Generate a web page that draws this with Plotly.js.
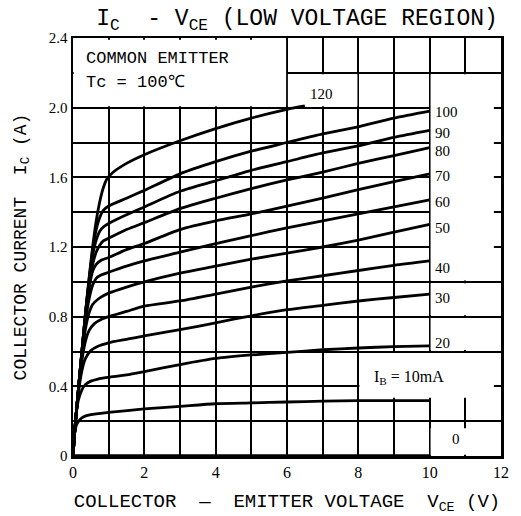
<!DOCTYPE html>
<html>
<head>
<meta charset="utf-8">
<script src="https://cdn.plot.ly/plotly-3.0.1.min.js"></script>
<style>html,body{margin:0;padding:0;background:#fff;}#chart{width:521px;height:516px;}</style>
</head>
<body>
<div id="chart"></div>
<script>
// ---- data ----
const ibLabels = ["0", "10", "20", "30", "40", "50", "60", "70", "80", "90", "100", "120"];

const v0 = [0, 10];
const i0 = [0, 0];

const v10 = [0, 0.03, 0.06, 0.1, 0.2, 0.3, 0.5, 1, 2, 3, 4, 5, 6, 7, 8, 9, 10];
const i10 = [0, 0.10, 0.15, 0.18, 0.21, 0.225, 0.237, 0.25, 0.27, 0.285, 0.30, 0.305, 0.31, 0.315, 0.318, 0.318, 0.318];

const v20 = [0, 0.04, 0.08, 0.15, 0.25, 0.35, 0.5, 0.7, 1, 1.5, 2, 3, 4, 5, 6, 7, 8, 9, 10];
const i20 = [0, 0.12, 0.22, 0.32, 0.38, 0.41, 0.43, 0.442, 0.452, 0.466, 0.485, 0.525, 0.56, 0.58, 0.595, 0.61, 0.62, 0.628, 0.632];

const v30 = [0, 0.04, 0.08, 0.15, 0.25, 0.35, 0.5, 0.7, 1, 1.5, 2, 3, 4, 5, 6, 7, 8, 9, 10];
const i30 = [0, 0.12, 0.22, 0.36, 0.49, 0.56, 0.605, 0.63, 0.65, 0.67, 0.69, 0.725, 0.765, 0.805, 0.84, 0.865, 0.89, 0.91, 0.93];

const v40 = [0, 0.04, 0.08, 0.15, 0.25, 0.35, 0.45, 0.6, 0.8, 1, 1.5, 2, 3, 4, 5, 6, 7, 8, 9, 10];
const i40 = [0, 0.12, 0.22, 0.37, 0.55, 0.66, 0.72, 0.76, 0.785, 0.80, 0.83, 0.86, 0.89, 0.93, 0.97, 1.005, 1.035, 1.065, 1.095, 1.12];

const v50 = [0, 0.04, 0.08, 0.15, 0.25, 0.35, 0.45, 0.55, 0.7, 0.85, 1, 1.5, 2, 3, 4, 5, 6, 7, 8, 9, 10];
const i50 = [0, 0.12, 0.22, 0.38, 0.58, 0.73, 0.82, 0.87, 0.90, 0.92, 0.935, 0.97, 1.0, 1.05, 1.09, 1.13, 1.165, 1.2, 1.24, 1.285, 1.33];

const v60 = [0, 0.04, 0.08, 0.15, 0.25, 0.35, 0.45, 0.55, 0.65, 0.8, 1, 1.5, 2, 3, 4, 5, 6, 7, 8, 9, 10];
const i60 = [0, 0.12, 0.22, 0.38, 0.59, 0.77, 0.90, 0.98, 1.02, 1.04, 1.055, 1.09, 1.12, 1.17, 1.22, 1.265, 1.31, 1.35, 1.39, 1.43, 1.47];

const v70 = [0, 0.04, 0.08, 0.15, 0.25, 0.35, 0.45, 0.55, 0.65, 0.8, 1, 1.5, 2, 3, 4, 5, 6, 7, 8, 9, 10];
const i70 = [0, 0.12, 0.22, 0.38, 0.60, 0.80, 0.96, 1.06, 1.10, 1.125, 1.14, 1.185, 1.22, 1.30, 1.35, 1.39, 1.435, 1.48, 1.53, 1.575, 1.62];

const v80 = [0, 0.04, 0.08, 0.15, 0.25, 0.35, 0.45, 0.55, 0.65, 0.75, 0.85, 1, 1.5, 2, 3, 4, 5, 6, 7, 8, 9, 10];
const i80 = [0, 0.12, 0.22, 0.38, 0.60, 0.81, 0.99, 1.10, 1.17, 1.21, 1.235, 1.25, 1.30, 1.34, 1.42, 1.48, 1.535, 1.585, 1.63, 1.68, 1.725, 1.77];

const v90 = [0, 0.04, 0.08, 0.15, 0.25, 0.35, 0.45, 0.55, 0.65, 0.75, 0.85, 1, 1.5, 2, 3, 4, 5, 6, 7, 8, 9, 10];
const i90 = [0, 0.12, 0.22, 0.38, 0.60, 0.82, 1.00, 1.15, 1.24, 1.29, 1.315, 1.335, 1.385, 1.43, 1.52, 1.58, 1.64, 1.69, 1.74, 1.78, 1.83, 1.87];

const v100 = [0, 0.04, 0.08, 0.15, 0.25, 0.35, 0.45, 0.55, 0.65, 0.75, 0.85, 1, 1.5, 2, 3, 4, 5, 6, 7, 8, 9, 10];
const i100 = [0, 0.12, 0.22, 0.38, 0.60, 0.82, 1.01, 1.18, 1.30, 1.37, 1.41, 1.435, 1.48, 1.525, 1.62, 1.69, 1.75, 1.80, 1.85, 1.89, 1.94, 1.98];

const v120 = [0, 0.04, 0.08, 0.15, 0.25, 0.35, 0.45, 0.55, 0.65, 0.75, 0.85, 0.95, 1.1, 1.5, 2, 3, 4, 5, 6, 6.5];
const i120 = [0, 0.12, 0.22, 0.38, 0.60, 0.82, 1.02, 1.20, 1.35, 1.46, 1.54, 1.59, 1.625, 1.68, 1.73, 1.81, 1.88, 1.94, 1.99, 2.01];

const xTickVals = [0, 2, 4, 6, 8, 10, 12];
const xTickText = ["0", "2", "4", "6", "8", "10", "12"];
const yTickVals = [0, 0.4, 0.8, 1.2, 1.6, 2.0, 2.4];
const yTickText = ["0", "0.4", "0.8", "1.2", "1.6", "2.0", "2.4"];

// label anchor positions (data units)
const labelX = [10.73, 9.42, 10.1, 10.1, 10.1, 10.1, 10.1, 10.1, 10.1, 10.1, 10.1, 6.6];
const labelY = [0.10, 0.45, 0.65, 0.91, 1.08, 1.31, 1.46, 1.605, 1.75, 1.855, 1.975, 2.08];

// ---- drawing ----
const curves = [[v0,i0],[v10,i10],[v20,i20],[v30,i30],[v40,i40],[v50,i50],[v60,i60],[v70,i70],[v80,i80],[v90,i90],[v100,i100],[v120,i120]];
const traces = curves.map((c, k) => ({
  x: c[0], y: c[1], type: 'scatter', mode: 'lines', name: 'IB=' + ibLabels[k] + 'mA',
  line: {color: '#000', width: k === 0 ? 3.5 : 2.8, shape: 'spline', smoothing: 0.7},
  cliponaxis: false, hoverinfo: 'skip', showlegend: false
}));

const mono = "Liberation Mono, Courier New, monospace";
const serif = "Liberation Serif, DejaVu Serif, serif";

const annotations = [];
ibLabels.forEach((lab, k) => {
  let txt = lab;
  let anchor = 'left';
  let size = 15;
  if (k === 0) { anchor = 'center'; }
  if (k === 1) { txt = 'I<sub>B</sub> = 10mA'; anchor = 'center'; size = 16; }
  annotations.push({x: labelX[k], y: labelY[k], xref: 'x', yref: 'y', text: txt, showarrow: false,
    xanchor: anchor, yanchor: 'middle', font: {family: serif, size: size, color: '#000'}});
});
annotations.push({x: 0.3, y: 2.285, xref: 'x', yref: 'y', text: 'COMMON EMITTER', showarrow: false,
  xanchor: 'left', yanchor: 'middle', font: {family: mono, size: 17, color: '#000'}});
annotations.push({x: 0.3, y: 2.145, xref: 'x', yref: 'y', text: 'Tc = 100℃', showarrow: false,
  xanchor: 'left', yanchor: 'middle', font: {family: mono, size: 17, color: '#000'}});

// white-out label boxes like in the printed chart
const box = (x0, x1, y0, y1) => ({type: 'rect', xref: 'x', yref: 'y', x0, x1, y0, y1,
  fillcolor: '#fff', line: {width: 0}, layer: 'between'});
const shapes = [
  box(0.02, 5.975, 2.008, 2.39),
  box(6.025, 7.975, 2.008, 2.192),
  box(10.025, 11.8, 1.008, 2.192),
  box(10.025, 11.99, 0.808, 0.992),
  box(10.025, 11.99, 0.608, 0.792),
  box(8.03, 11.8, 0.335, 0.592),
  box(10.025, 11.99, 0.007, 0.16)
];

const layout = {
  width: 521, height: 516,
  margin: {l: 73, r: 20, t: 38, b: 60},
  paper_bgcolor: '#fff', plot_bgcolor: '#fff',
  showlegend: false,
  title: {text: 'I<sub>C</sub>  - V<sub>CE</sub> (LOW VOLTAGE REGION)', x: 0.57, xanchor: 'center', y: 0.967, yanchor: 'middle',
    font: {family: mono, size: 23, color: '#000'}},
  xaxis: {range: [0, 12], tickvals: xTickVals, ticktext: xTickText, showgrid: true, gridcolor: '#000', gridwidth: 2,
    minor: {dtick: 1, showgrid: true, gridcolor: '#000', gridwidth: 2},
    zeroline: false, showline: true, linecolor: '#000', linewidth: 2.5, mirror: true, ticks: '',
    tickfont: {family: serif, size: 16, color: '#000'}, fixedrange: true,
    title: {text: 'COLLECTOR  —  EMITTER VOLTAGE  V<sub>CE</sub> (V)', standoff: 14,
      font: {family: mono, size: 19, color: '#000'}}},
  yaxis: {range: [0, 2.4], tickvals: yTickVals, ticktext: yTickText, showgrid: true, gridcolor: '#000', gridwidth: 2,
    minor: {dtick: 0.2, showgrid: true, gridcolor: '#000', gridwidth: 2},
    zeroline: false, showline: true, linecolor: '#000', linewidth: 2.5, mirror: true, ticks: '',
    tickfont: {family: serif, size: 15, color: '#000'}, fixedrange: true,
    title: {text: 'COLLECTOR CURRENT  I<sub>C</sub> (A)', standoff: 18,
      font: {family: mono, size: 18, color: '#000'}}},
  annotations: annotations,
  shapes: shapes
};

Plotly.newPlot('chart', traces, layout, {staticPlot: true, displayModeBar: false});
</script>
</body>
</html>
